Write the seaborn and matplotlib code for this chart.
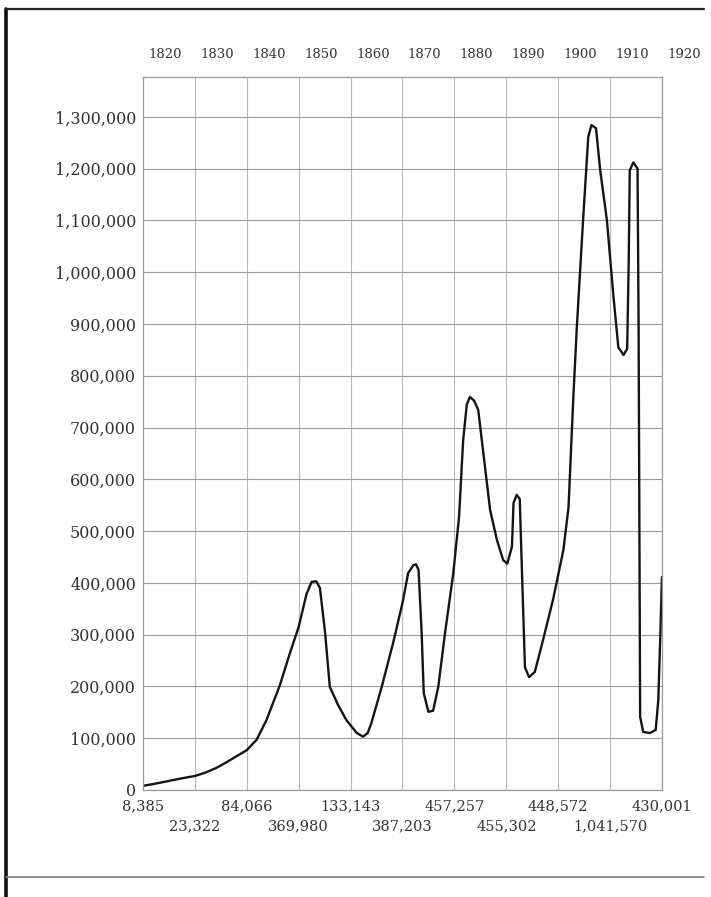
import numpy as np
import pandas as pd
import seaborn as sns
import matplotlib.pyplot as plt
from matplotlib.lines import Line2D

# decade years and the figures printed under the chart
decades = [1820, 1830, 1840, 1850, 1860, 1870, 1880, 1890, 1900, 1910, 1920]
decade_labels = ["8,385", "23,322", "84,066", "369,980", "133,143", "387,203",
                 "457,257", "455,302", "448,572", "1,041,570", "430,001"]

# y axis scale
y_ticks = [0, 100000, 200000, 300000, 400000, 500000, 600000, 700000,
           800000, 900000, 1000000, 1100000, 1200000, 1300000]

# curve (year, immigrants)
years = [1820.0, 1822.0, 1824.0, 1826.0, 1828.0, 1830.0, 1832.0, 1834.0, 1836.0,
         1838.0, 1840.0, 1841.9, 1843.8, 1846.4, 1848.3, 1850.0, 1851.5, 1852.5,
         1853.4, 1854.1, 1855.1, 1856.0, 1857.6, 1859.2, 1861.2, 1862.4, 1863.3,
         1864.0, 1866.0, 1868.2, 1870.0, 1871.1, 1872.1, 1872.6, 1873.1, 1873.7,
         1874.1, 1875.0, 1875.9, 1876.9, 1878.2, 1879.8, 1880.9, 1881.7, 1882.4,
         1883.0, 1883.8, 1884.6, 1885.9, 1886.9, 1888.2, 1889.4, 1890.2, 1891.1,
         1891.4, 1892.0, 1892.6, 1892.9, 1893.3, 1893.6, 1894.4, 1895.5, 1897.1,
         1899.0, 1901.0, 1902.0, 1902.9, 1903.6, 1904.8, 1905.8, 1906.4, 1907.3,
         1908.1, 1909.4, 1910.6, 1911.6, 1912.6, 1913.3, 1913.6, 1913.8, 1914.5,
         1915.3, 1915.5, 1915.8, 1916.4, 1917.7, 1918.8, 1919.3, 1919.7, 1920.0]
immigrants = [8000, 11500, 15500, 19500, 23500, 27000, 33500, 42000, 53000,
              65000, 77000, 97000, 135000, 203000, 264000, 315000, 378000, 402000,
              403000, 390000, 303000, 199000, 164000, 135000, 110000, 103000, 110000,
              129000, 199000, 284000, 361000, 419000, 434000, 436000, 425000, 303000,
              187000, 151000, 153000, 199000, 303000, 419000, 527000, 676000, 745000,
              759000, 752000, 734000, 624000, 540000, 483000, 444000, 437000, 470000,
              554000, 570000, 562000, 463000, 334000, 237000, 218000, 228000, 290000,
              367000, 463000, 546000, 753000, 894000, 1100000, 1261000, 1284000, 1278000,
              1197000, 1100000, 959000, 855000, 840000, 852000, 1023000, 1197000, 1212000,
              1200000, 900000, 141000, 112000, 110000, 116000, 174000, 303000, 411000]

df = pd.DataFrame({"year": years, "immigrants": immigrants})

sns.set_theme(style="white")
plt.rcParams["font.family"] = ["DejaVu Serif", "DejaVu Sans"]

fig = plt.figure(figsize=(7.11, 8.97), dpi=100)
ax = fig.add_axes([0.2011, 0.1193, 0.7299, 0.7949])

sns.lineplot(data=df, x="year", y="immigrants", ax=ax, color="#141414",
             linewidth=1.7, estimator=None, sort=False)
ax.lines[0].set_solid_joinstyle("round")
ax.lines[0].set_solid_capstyle("round")

ax.set_xlim(1820, 1920)
ax.set_ylim(0, 1377000)

# y axis
ax.set_yticks(y_ticks)
ax.set_yticklabels([f"{v:,}" for v in y_ticks], fontsize=11.5, color="#333333")

# bottom figures, staggered on two rows (major / minor ticks)
ax.set_xticks(decades[::2])
ax.set_xticklabels(decade_labels[::2], fontsize=10.5, color="#333333")
ax.set_xticks(decades[1::2], minor=True)
ax.set_xticklabels(decade_labels[1::2], minor=True, fontsize=10.5, color="#333333")
ax.tick_params(axis="both", which="both", length=0)
ax.tick_params(axis="y", pad=5)
ax.tick_params(axis="x", which="major", pad=7)
ax.tick_params(axis="x", which="minor", pad=21)
ax.set_xlabel("")
ax.set_ylabel("")

# years along the top, printed a little right of the grid lines
for yr in decades:
    ax.annotate(str(yr), xy=(yr, 1), xycoords=("data", "axes fraction"),
                xytext=(16, 16), textcoords="offset points",
                ha="center", va="center", fontsize=9.5, color="#333333")

ax.grid(axis="y", color="#9a9a9a", linewidth=0.8)
ax.grid(axis="x", which="both", color="#b8b8b8", linewidth=0.8)
for s in ax.spines.values():
    s.set_color("#9a9a9a")
    s.set_linewidth(0.9)

# page frame
fig.add_artist(Line2D([0.008, 0.008], [0.0, 0.99], transform=fig.transFigure,
                      color="#111111", linewidth=2.6))
fig.add_artist(Line2D([0.008, 0.99], [0.99, 0.99], transform=fig.transFigure,
                      color="#222222", linewidth=1.6))
fig.add_artist(Line2D([0.008, 0.99], [0.022, 0.022], transform=fig.transFigure,
                      color="#7a7a7a", linewidth=1.2))

fig.savefig("out.png", dpi=100, facecolor="white")
